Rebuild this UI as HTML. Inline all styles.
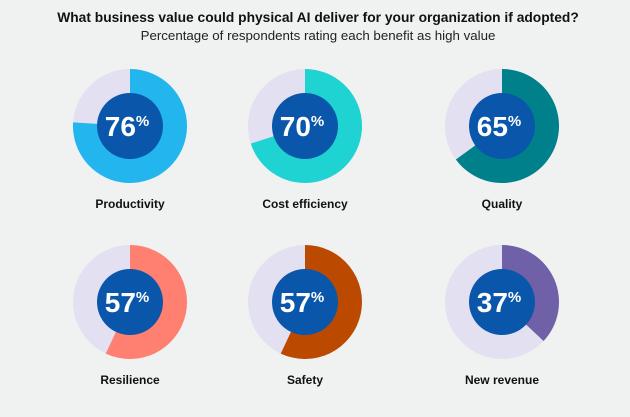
<!DOCTYPE html>
<html><head><meta charset="utf-8"><style>
body{margin:0;background:#f0f1f1;font-family:"Liberation Sans",sans-serif;}
#w{position:relative;width:630px;height:412px;}
</style></head><body>
<div id="w">
<svg width="630" height="412" id="svg">
<text x="318" y="22" text-anchor="middle" font-size="13.8" font-weight="bold" fill="#111">What business value could physical AI deliver for your organization if adopted?</text>
<text x="318" y="40" text-anchor="middle" font-size="13.3" fill="#222">Percentage of respondents rating each benefit as high value</text>
</svg>
</div>
<script>
const categories=["Productivity","Cost efficiency","Quality","Resilience","Safety","New revenue"];
const values=[76,70,65,57,57,37];
const colors=["#22b5ee","#1fd3d3","#00808a","#ff8070","#bb4a00","#7060a8"];
const svg=document.getElementById('svg');
const NS="http://www.w3.org/2000/svg";
const cxs=[130,305,502], cys=[126,302];
const R=57, r=33;
function ang(v){return v/100*2*Math.PI;}
function pt(cx,cy,rad,a){return [cx+rad*Math.sin(a),cy-rad*Math.cos(a)];}
categories.forEach((c,i)=>{
  const cx=cxs[i%3], cy=cys[Math.floor(i/3)];
  const g=document.createElementNS(NS,'g');
  
  
  const bg=document.createElementNS(NS,'circle');
  bg.setAttribute('cx',cx);bg.setAttribute('cy',cy);bg.setAttribute('r',R);bg.setAttribute('fill','#e3e1f1');
  
  
  g.appendChild(bg);
  const a=ang(values[i]);
  const [x1,y1]=pt(cx,cy,R,a);
  const p=document.createElementNS(NS,'path');
  p.setAttribute('d',`M${cx},${cy} L${cx},${cy-R} A${R},${R} 0 ${a>Math.PI?1:0} 1 ${x1},${y1} Z`);
  p.setAttribute('fill',colors[i]);
  
  
  g.appendChild(p);
  const inner=document.createElementNS(NS,'circle');
  inner.setAttribute('cx',cx);inner.setAttribute('cy',cy);inner.setAttribute('r',r);inner.setAttribute('fill','#0a56aa');
  
  
  g.appendChild(inner);
  const t=document.createElementNS(NS,'text');
  t.setAttribute('x',cx-3);t.setAttribute('y',cy+10);t.setAttribute('text-anchor','middle');
  t.setAttribute('fill','#fff');t.setAttribute('font-weight','bold');t.setAttribute('font-size','28');
  
  
  t.innerHTML=values[i]+'<tspan font-size="15" dy="-10">%</tspan>';
  g.appendChild(t);
  const l=document.createElementNS(NS,'text');
  l.setAttribute('x',cx);l.setAttribute('y',cy+82);l.setAttribute('text-anchor','middle');
  l.setAttribute('font-size','12');l.setAttribute('font-weight','bold');l.setAttribute('fill','#111');
  
  
  l.textContent=c;
  g.appendChild(l);
  svg.appendChild(g);
});
</script>
</body></html>
